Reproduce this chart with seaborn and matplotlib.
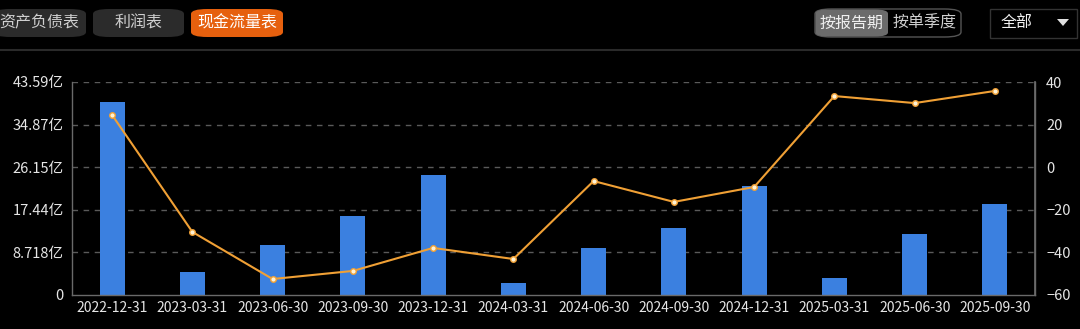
import matplotlib
matplotlib.use("Agg")
import matplotlib.pyplot as plt
import seaborn as sns
import pandas as pd
from matplotlib.patches import FancyBboxPatch, Rectangle, Polygon
from matplotlib.lines import Line2D

dates = ["2022-12-31", "2023-03-31", "2023-06-30", "2023-09-30", "2023-12-31", "2024-03-31",
         "2024-06-30", "2024-09-30", "2024-12-31", "2025-03-31", "2025-06-30", "2025-09-30"]
amount_yi = [39.5, 4.71, 10.23, 16.17, 24.56, 2.46, 9.62, 13.71, 22.31, 3.48, 12.48, 18.62]
growth_pct = [24.5, -30.4, -52.5, -48.7, -37.9, -43.1, -6.5, -16.3, -9.3, 33.4, 30.1, 35.8]
left_ticks = [0, 8.718, 17.436, 26.154, 34.872, 43.59]
left_labels = ["0", "8.718亿", "17.44亿", "26.15亿", "34.87亿", "43.59亿"]
right_ticks = [-60, -40, -20, 0, 20, 40]
tabs = ["资产负债表", "利润表", "现金流量表"]
modes = ["按报告期", "按单季度"]
range_label = "全部"

sns.set_theme(style="dark")
plt.rcParams['font.family'] = ['Noto Sans CJK SC', 'DejaVu Sans']

BG = "#000000"
TXT = "#e6e6e6"
fig = plt.figure(figsize=(10.8, 3.29), dpi=100, facecolor=BG)
W, H = 1080, 329

def fx(x): return x / W
def fy(y): return 1 - y / H

ax = fig.add_axes([fx(72), fy(295), fx(1035) - fx(72), fy(82) - fy(295)])
ax.set_facecolor(BG)
df = pd.DataFrame({"date": dates, "amount": amount_yi, "growth": growth_pct})
sns.barplot(data=df, x="date", y="amount", color="#3b80e0", saturation=1, width=0.31, ax=ax,
            linewidth=0, edgecolor="none")
ax.set_ylim(0, 43.59)
ax.set_xlim(-0.5, len(dates) - 0.5)
ax.set_yticks(left_ticks)
ax.set_yticklabels(left_labels)
ax.set_xlabel("")
ax.set_ylabel("")
ax.grid(False)
for t in left_ticks[1:]:
    ax.axhline(t, color="#5a5a5a", linestyle=(0, (4, 4)), linewidth=1, zorder=0)
ax.spines["top"].set_visible(False)
for side in ["left", "bottom", "right"]:
    ax.spines[side].set_visible(True)
    ax.spines[side].set_color("#6a6a6a")
    ax.spines[side].set_linewidth(1)
ax.tick_params(axis="y", colors=TXT, labelsize=10.5, length=0, pad=6)
ax.tick_params(axis="x", colors=TXT, labelsize=10, length=0, pad=4)

ax2 = ax.twinx()
sns.pointplot(data=df, x="date", y="growth", color="#f0a035", markers="o", ax=ax2,
              markersize=4, linewidth=1.5, markerfacecolor="#fff3d6", markeredgecolor="#f0a035",
              markeredgewidth=1)
ax2.set_ylim(-60, 40)
ax2.set_xlim(-0.5, len(dates) - 0.5)
ax2.set_yticks(right_ticks)
ax2.set_ylabel("")
ax2.set_xlabel("")
ax2.grid(False)
for side in ["top", "left", "bottom"]:
    ax2.spines[side].set_visible(False)
ax2.spines["right"].set_color("#6a6a6a")
ax2.tick_params(axis="y", colors=TXT, labelsize=10.5, length=0, pad=8)

# header
fig.add_artist(Line2D([0, 1], [fy(49.5), fy(49.5)], color="#2a2a2a", linewidth=1.5, transform=fig.transFigure))

def button(x0, x1, y0, y1, fc, ec=None, lw=0, r=5):
    p = FancyBboxPatch((fx(x0), fy(y1)), fx(x1) - fx(x0), fy(y0) - fy(y1),
                       boxstyle=f"round,pad=0,rounding_size={r / H}", transform=fig.transFigure,
                       facecolor=fc, edgecolor=ec if ec else fc, linewidth=lw)
    fig.add_artist(p)

tab_boxes = [(-6, 86, "#2b2b2b", "#d0d0d0"), (93, 184, "#2b2b2b", "#d0d0d0"), (191, 283, "#e6600e", "#ffffff")]
for (x0, x1, fc, tc), label in zip(tab_boxes, tabs):
    button(x0, x1, 9, 37, fc)
    fig.text(fx((x0 + x1) / 2 + (-1 if x0 < 0 else 0)), fy(23), label, color=tc, fontsize=11.5,
             ha="center", va="center")

# mode segmented control
button(815, 961, 9, 37, BG, ec="#555555", lw=1)
fig.add_artist(FancyBboxPatch((fx(815.5), fy(36.5)), fx(888) - fx(815.5), fy(9.5) - fy(36.5),
                              boxstyle=f"round,pad=0,rounding_size={4 / H}", transform=fig.transFigure,
                              facecolor="#6b6b6b", edgecolor="none"))
fig.text(fx(851.5), fy(23), modes[0], color="#f0f0f0", fontsize=11.5, ha="center", va="center")
fig.text(fx(924.5), fy(23), modes[1], color="#d0d0d0", fontsize=11.5, ha="center", va="center")

# range dropdown
fig.add_artist(Rectangle((fx(990), fy(38)), fx(1077) - fx(990), fy(9) - fy(38), transform=fig.transFigure,
                         facecolor=BG, edgecolor="#333333", linewidth=1))
fig.text(fx(1017), fy(23), range_label, color="#f0f0f0", fontsize=11.5, ha="center", va="center")
fig.add_artist(Polygon([(fx(1057), fy(19)), (fx(1069), fy(19)), (fx(1063), fy(26))], closed=True,
                       transform=fig.transFigure, facecolor="#e0e0e0", edgecolor="none"))

fig.savefig("out.png", dpi=100, facecolor=BG)
